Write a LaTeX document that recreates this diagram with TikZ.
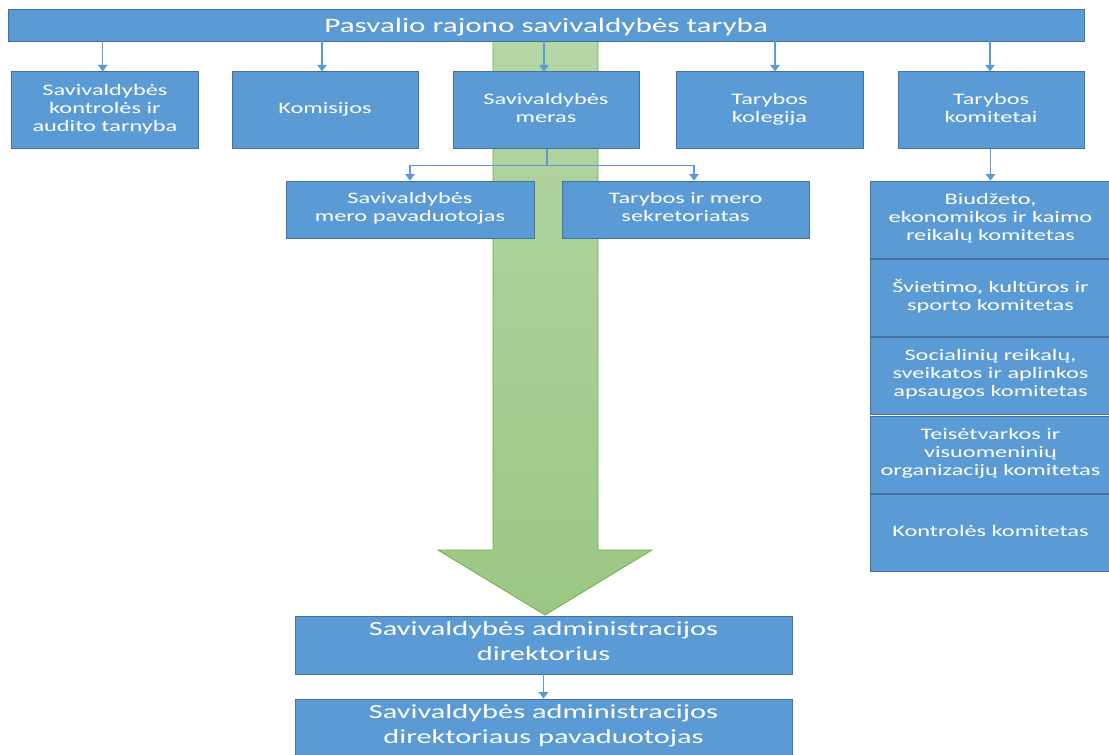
\documentclass[tikz,border=0pt]{standalone}
\usepackage{fontspec}
\setmainfont{Carlito}[FakeStretch=1.52]
\usetikzlibrary{arrows.meta}
\definecolor{boxc}{HTML}{5B9BD5}
\definecolor{bordc}{HTML}{41719C}
\definecolor{linec}{HTML}{5B9BD5}
\definecolor{gtop}{HTML}{B5D6A5}
\definecolor{gbot}{HTML}{9BC784}
\definecolor{gline}{HTML}{70AD47}
\tikzset{
  box/.style={draw=bordc, fill=boxc, text=white, line width=0.8pt, inner sep=0pt,
    align=center, execute at begin node=\strut, execute at end node=\strut,
    font=\fontsize{16}{18}\selectfont},
  bigbox/.style={box, font=\fontsize{20}{25}\selectfont,
    execute at begin node={\rule{0pt}{22.5pt}}},
  titlebox/.style={box, font=\fontsize{20.5}{24}\selectfont,
    execute at begin node={\rule{0pt}{20.8pt}}},
  conn/.style={draw=linec, line width=1.3pt, -{Triangle[width=9.5pt,length=6.5pt]}},
  connline/.style={draw=linec, line width=1.3pt},
}
\begin{document}
\begin{tikzpicture}[x=1pt,y=-1pt]
\useasboundingbox (0,0) rectangle (1109,755);
\clip (0,0) rectangle (1109,755);
% big green arrow
\path[draw=gline, line width=0.8pt, top color=gtop, bottom color=gbot]
  (493,41) -- (598,41) -- (598,550) -- (652,550) -- (545,615) -- (438,550) -- (493,550) -- cycle;
% title
\node[titlebox, minimum width=1075.7pt, minimum height=31.7pt] (top) at (546.2,25.2) {Pasvalio rajono savivaldybės taryba};
% row 2
\node[box, minimum width=186.3pt, minimum height=77pt] (b1) at (104.9,110.3) {Savivaldybės\\kontrolės ir\\audito tarnyba};
\node[box, minimum width=186pt, minimum height=77pt] (b2) at (325,110.3) {Komisijos};
\node[box, minimum width=186pt, minimum height=77pt] (b3) at (546,110.3) {Savivaldybės\\meras};
\node[box, minimum width=187pt, minimum height=77pt] (b4) at (769.5,110.3) {Tarybos\\kolegija};
\node[box, minimum width=186pt, minimum height=77pt] (b5) at (991,110.3) {Tarybos\\komitetai};
% row 3
\node[box, minimum width=248pt, minimum height=57.5pt] (ma) at (410,209.75) {Savivaldybės\\mero pavaduotojas};
\node[box, minimum width=247pt, minimum height=57.5pt] (mb) at (685.5,209.75) {Tarybos ir mero\\sekretoriatas};
% committees
\node[box, minimum width=241pt, minimum height=77pt] (c1) at (990.5,219.5) {Biudžeto,\\ekonomikos ir kaimo\\reikalų komitetas};
\node[box, minimum width=241pt, minimum height=77pt] (c2) at (990.5,297.8) {Švietimo, kultūros ir\\sporto komitetas};
\node[box, minimum width=241pt, minimum height=77pt] (c3) at (990.5,376.1) {Socialinių reikalų,\\sveikatos ir aplinkos\\apsaugos komitetas};
\node[box, minimum width=241pt, minimum height=77pt] (c4) at (990.5,454.4) {Teisėtvarkos ir\\visuomeninių\\organizacijų komitetas};
\node[box, minimum width=241pt, minimum height=77pt] (c5) at (990.5,532.7) {Kontrolės komitetas};
% bottom
\node[bigbox, minimum width=497pt, minimum height=58pt] (dir) at (543.5,645) {Savivaldybės administracijos\\direktorius};
\node[bigbox, minimum width=497pt, minimum height=58pt] (dep) at (543.5,728) {Savivaldybės administracijos\\direktoriaus pavaduotojas};
% connectors
\draw[conn] ([xshift=-2.2pt]b1.north |- top.south) -- ([xshift=-2.2pt]b1.north);
\draw[conn] ([xshift=-3pt]b2.north |- top.south) -- ([xshift=-3pt]b2.north);
\draw[conn] ([xshift=-2pt]b3.north |- top.south) -- ([xshift=-2pt]b3.north);
\draw[conn] ([xshift=5.5pt]b4.north |- top.south) -- ([xshift=5.5pt]b4.north);
\draw[conn] ([xshift=-1pt]b5.north |- top.south) -- ([xshift=-1pt]b5.north);
\coordinate (mj) at ([xshift=1pt,yshift=-16pt]b3.south);
\draw[connline] ([xshift=1pt]b3.south) -- (mj);
\draw[conn] (mj) -| (ma.north);
\draw[conn] (mj) -| ([xshift=8.5pt]mb.north);
\draw[conn] ([xshift=-0.5pt]b5.south) -- ([xshift=-0.5pt]b5.south |- c1.north);
\draw[conn] (dir.south) -- (dep.north);
\end{tikzpicture}
\end{document}
